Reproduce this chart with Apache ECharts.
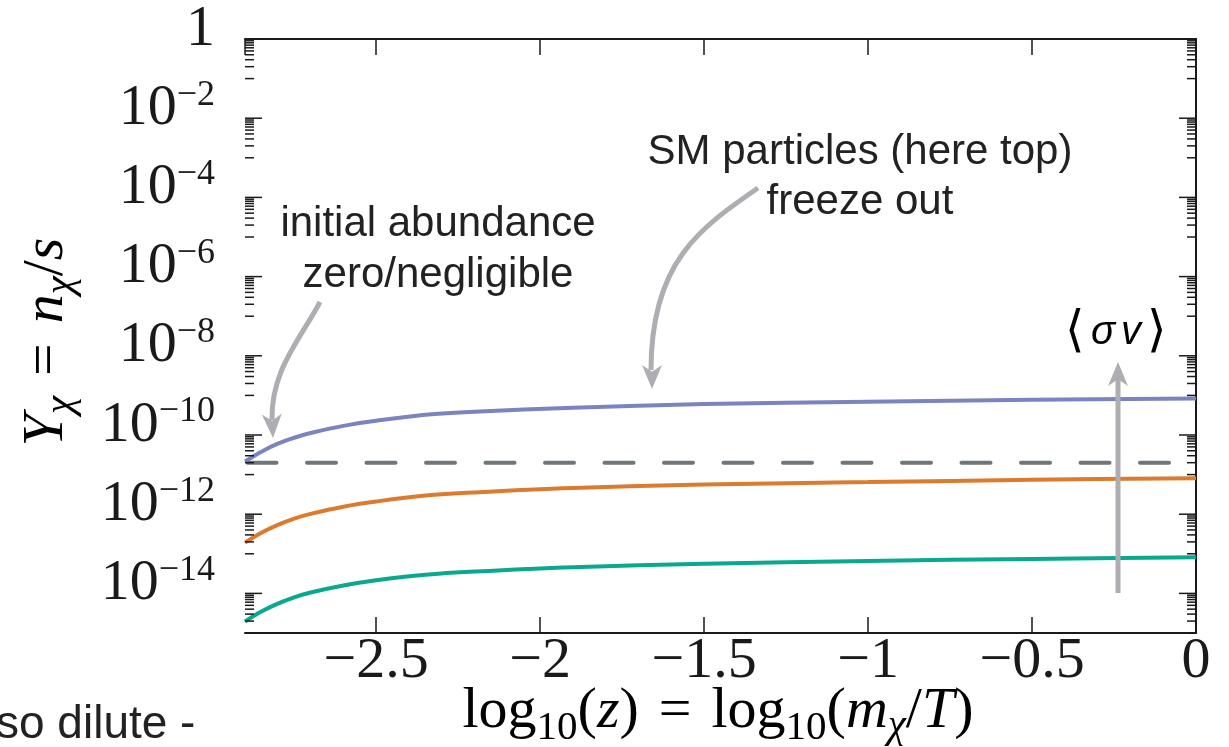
<!DOCTYPE html>
<html>
<head>
<meta charset="utf-8">
<script src="https://cdn.jsdelivr.net/npm/echarts@6/dist/echarts.min.js"></script>
<style>
  html, body { margin: 0; padding: 0; background: #fff; }
  #chart { width: 1229px; height: 747px; }
</style>
</head>
<body>
<div id="chart"></div>
<script>
// x = log10(m_chi / T)
const xValues = [-2.9, -2.85, -2.8, -2.75, -2.7, -2.6, -2.5, -2.35, -2.2, -1.9, -1.5, -1.0, -0.5, 0];
// Y_chi = n_chi / s, one curve per coupling
const yBlue   = [2.14e-11, 3.80e-11, 6.03e-11, 8.51e-11, 1.12e-10, 1.70e-10, 2.29e-10, 3.24e-10, 3.89e-10, 4.90e-10, 6.03e-10, 6.92e-10, 7.76e-10, 8.32e-10];
const yOrange = [1.91e-13, 3.39e-13, 5.37e-13, 7.76e-13, 1.02e-12, 1.55e-12, 2.09e-12, 2.95e-12, 3.55e-12, 4.57e-12, 5.62e-12, 6.46e-12, 7.41e-12, 8.13e-12];
const yTeal   = [1.95e-15, 3.47e-15, 5.50e-15, 7.94e-15, 1.05e-14, 1.58e-14, 2.14e-14, 2.95e-14, 3.55e-14, 4.57e-14, 5.62e-14, 6.61e-14, 7.41e-14, 8.13e-14];
// dashed horizontal level
const dashedX = [-2.9, 0];
const dashedY = [2.0e-11, 2.0e-11];
// labelled decades (exponents) on the y axis
const yLabelExps = [0, -2, -4, -6, -8, -10, -12, -14];

const X_MIN = -2.9, X_MAX = 0;
const Y_MIN = 1e-15, Y_MAX = 1;
const INK = '#1a1a1a';
const SERIF = 'Liberation Serif';
const ARROW = '#adaeb1';

const zip = (xs, ys) => xs.map((x, i) => [x, ys[i]]);

// y ticks: long at labelled decades, short at odd decades and the 2..9 run below each label
const yTicks = [];
yLabelExps.forEach(e => {
  yTicks.push([X_MIN, Math.pow(10, e), 17]);
  yTicks.push([X_MIN, Math.pow(10, e - 1), 9]);
  for (let k = 2; k <= 9; k++) {
    yTicks.push([X_MIN, k * Math.pow(10, e - 1), 9]);
  }
});
const yLabelData = yLabelExps.map(e => [X_MIN, Math.pow(10, e)]);

const labelRich = {
  m: { fontFamily: SERIF, fontSize: 58, color: INK, verticalAlign: 'middle' },
  s: { fontFamily: SERIF, fontSize: 36, color: INK, verticalAlign: 'middle', padding: [0, 0, 27, 0] }
};

function renderTick(params, api) {
  const v = api.value(1);
  const len = api.value(2);
  const l = api.coord([X_MIN, v]);
  const r = api.coord([X_MAX, v]);
  const style = { stroke: INK, lineWidth: 1.5 };
  return {
    type: 'group',
    children: [
      { type: 'line', shape: { x1: l[0], y1: l[1], x2: l[0] + len, y2: l[1] }, style: style },
      { type: 'line', shape: { x1: r[0], y1: r[1], x2: r[0] - len, y2: r[1] }, style: style }
    ]
  };
}

function renderYLabel(params, api) {
  const e = yLabelExps[params.dataIndex];
  const p = api.coord([X_MIN, api.value(1)]);
  const text = e === 0 ? '{m|1}' : '{m|10}{s|\u2212' + (-e) + '}';
  return {
    type: 'text',
    x: p[0] - 30,
    y: p[1] - 9.6,
    style: { text: text, align: 'right', verticalAlign: 'middle', rich: labelRich, fill: INK }
  };
}

// arrow head as a notched triangle pointing along angle a
function head(tx, ty, a, len, half) {
  const bx = tx - Math.cos(a) * len, by = ty - Math.sin(a) * len;
  const nx = tx - Math.cos(a) * len * 0.72, ny = ty - Math.sin(a) * len * 0.72;
  const px = -Math.sin(a) * half, py = Math.cos(a) * half;
  return {
    type: 'polygon', z: 100,
    shape: { points: [[tx, ty], [bx + px, by + py], [nx, ny], [bx - px, by - py]] },
    style: { fill: ARROW }
  };
}

const mathRich = {
  r: { fontFamily: SERIF, fontSize: 58, color: INK, verticalAlign: 'middle' },
  i: { fontFamily: SERIF, fontSize: 58, fontStyle: 'italic', color: INK, verticalAlign: 'middle' },
  eq: { fontFamily: SERIF, fontSize: 58, color: INK, verticalAlign: 'middle', padding: [0, 20, 0, 20] },
  sub: { fontFamily: SERIF, fontSize: 41, color: INK, verticalAlign: 'middle', padding: [33, 0, 0, 0] },
  subi: { fontFamily: SERIF, fontSize: 41, fontStyle: 'italic', color: INK, verticalAlign: 'middle', padding: [28, 0, 0, 0] }
};

const axisCommonX = {
  type: 'value', min: X_MIN, max: X_MAX, minInterval: 0.5, maxInterval: 0.5,
  axisLine: { show: true, onZero: false, lineStyle: { color: INK, width: 2 } },
  axisTick: { show: true, inside: true, length: 16, lineStyle: { color: INK, width: 1.5 } },
  splitLine: { show: false }
};
const axisCommonY = {
  type: 'log', logBase: 10, min: Y_MIN, max: Y_MAX,
  axisLine: { show: true, lineStyle: { color: INK, width: 2 } },
  axisTick: { show: false },
  axisLabel: { show: false },
  splitLine: { show: false },
  minorTick: { show: false }
};

const curveStyle = { type: 'line', showSymbol: false, smooth: 0.35 };

const chart = echarts.init(document.getElementById('chart'));
chart.setOption({
  animation: false,
  backgroundColor: '#fff',
  grid: { left: 245, right: 33, top: 39, bottom: 114, containLabel: false },
  xAxis: [
    Object.assign({}, axisCommonX, {
      position: 'bottom',
      axisLabel: {
        show: true, margin: 0, fontFamily: SERIF, fontSize: 58, color: INK, showMinLabel: false,
        formatter: v => String(v).replace('-', '\u2212')
      }
    }),
    Object.assign({}, axisCommonX, { position: 'top', axisLabel: { show: false } })
  ],
  yAxis: [
    Object.assign({}, axisCommonY, { position: 'left' }),
    Object.assign({}, axisCommonY, { position: 'right' })
  ],
  series: [
    {
      type: 'line', data: zip(dashedX, dashedY), showSymbol: false, z: 3,
      lineStyle: { color: '#6f7679', width: 4, type: [29, 30.5], dashOffset: 57, cap: 'round' }
    },
    Object.assign({}, curveStyle, { data: zip(xValues, yBlue), lineStyle: { color: '#7a84c1', width: 4 } }),
    Object.assign({}, curveStyle, { data: zip(xValues, yOrange), lineStyle: { color: '#dc7b2d', width: 4 } }),
    Object.assign({}, curveStyle, { data: zip(xValues, yTeal), lineStyle: { color: '#0aa98f', width: 4 } }),
    { type: 'custom', data: yTicks, renderItem: renderTick, clip: false, z: 5 },
    { type: 'custom', data: yLabelData, renderItem: renderYLabel, clip: false, z: 5 }
  ],
  graphic: [
    // axis titles
    {
      type: 'text', x: 718, y: 712, z: 100,
      style: {
        text: '{r|log}{sub|10}{r|(}{i|z}{r|)}{eq|=}{r|log}{sub|10}{r|(}{i|m}{subi|\u03c7}{r|/}{i|T}{r|)}',
        rich: mathRich, align: 'center', verticalAlign: 'middle'
      }
    },
    {
      type: 'text', x: 47, y: 342, rotation: Math.PI / 2, z: 100,
      style: {
        text: '{i|Y}{subi|\u03c7}{eq|=}{i|n}{subi|\u03c7}{r|/}{i|s}',
        rich: mathRich, align: 'center', verticalAlign: 'middle'
      }
    },
    // annotations
    {
      type: 'text', x: 860, y: 177, z: 100,
      style: {
        text: 'SM particles (here top)\nfreeze out', fontFamily: 'Liberation Sans', fontSize: 42,
        lineHeight: 50, fill: '#222', align: 'center', verticalAlign: 'middle'
      }
    },
    {
      type: 'text', x: 438, y: 250, z: 100,
      style: {
        text: 'initial abundance\nzero/negligible', fontFamily: 'Liberation Sans', fontSize: 42,
        lineHeight: 51, fill: '#222', align: 'center', verticalAlign: 'middle'
      }
    },
    {
      type: 'text', x: 1116, y: 333, z: 100,
      style: {
        text: '{b|\u27e8}{g|\u03c3}{g|v}{b|\u27e9}', align: 'center', verticalAlign: 'middle',
        rich: {
          b: { fontFamily: 'DejaVu Sans', fontSize: 50, fontWeight: 'lighter', color: '#222', verticalAlign: 'middle', padding: [0, 3, 0, 3] },
          g: { fontFamily: 'Liberation Sans', fontStyle: 'italic', fontSize: 40, color: '#222', verticalAlign: 'middle', padding: [0, 3, 0, 3] }
        }
      }
    },
    {
      type: 'text', x: -4, y: 725, z: 100,
      style: { text: 'so dilute -', fontFamily: 'Liberation Sans', fontSize: 46, fill: '#222', align: 'left', verticalAlign: 'middle' }
    },
    // arrows
    {
      type: 'bezierCurve', z: 100,
      shape: { x1: 320, y1: 302, cpx1: 300, cpy1: 340, cpx2: 271, cpy2: 370, x2: 272, y2: 420 },
      style: { stroke: ARROW, lineWidth: 5, fill: null }
    },
    head(273, 438, Math.PI / 2 - 0.05, 24, 10),
    {
      type: 'bezierCurve', z: 100,
      shape: { x1: 758, y1: 188, cpx1: 700, cpy1: 228, cpx2: 651, cpy2: 262, x2: 651, y2: 370 },
      style: { stroke: ARROW, lineWidth: 5, fill: null }
    },
    head(652, 389, Math.PI / 2, 24, 10),
    {
      type: 'line', z: 100,
      shape: { x1: 1118, y1: 593, x2: 1118, y2: 378 },
      style: { stroke: ARROW, lineWidth: 5 }
    },
    head(1118, 362, -Math.PI / 2, 24, 10)
  ]
});
</script>
</body>
</html>
